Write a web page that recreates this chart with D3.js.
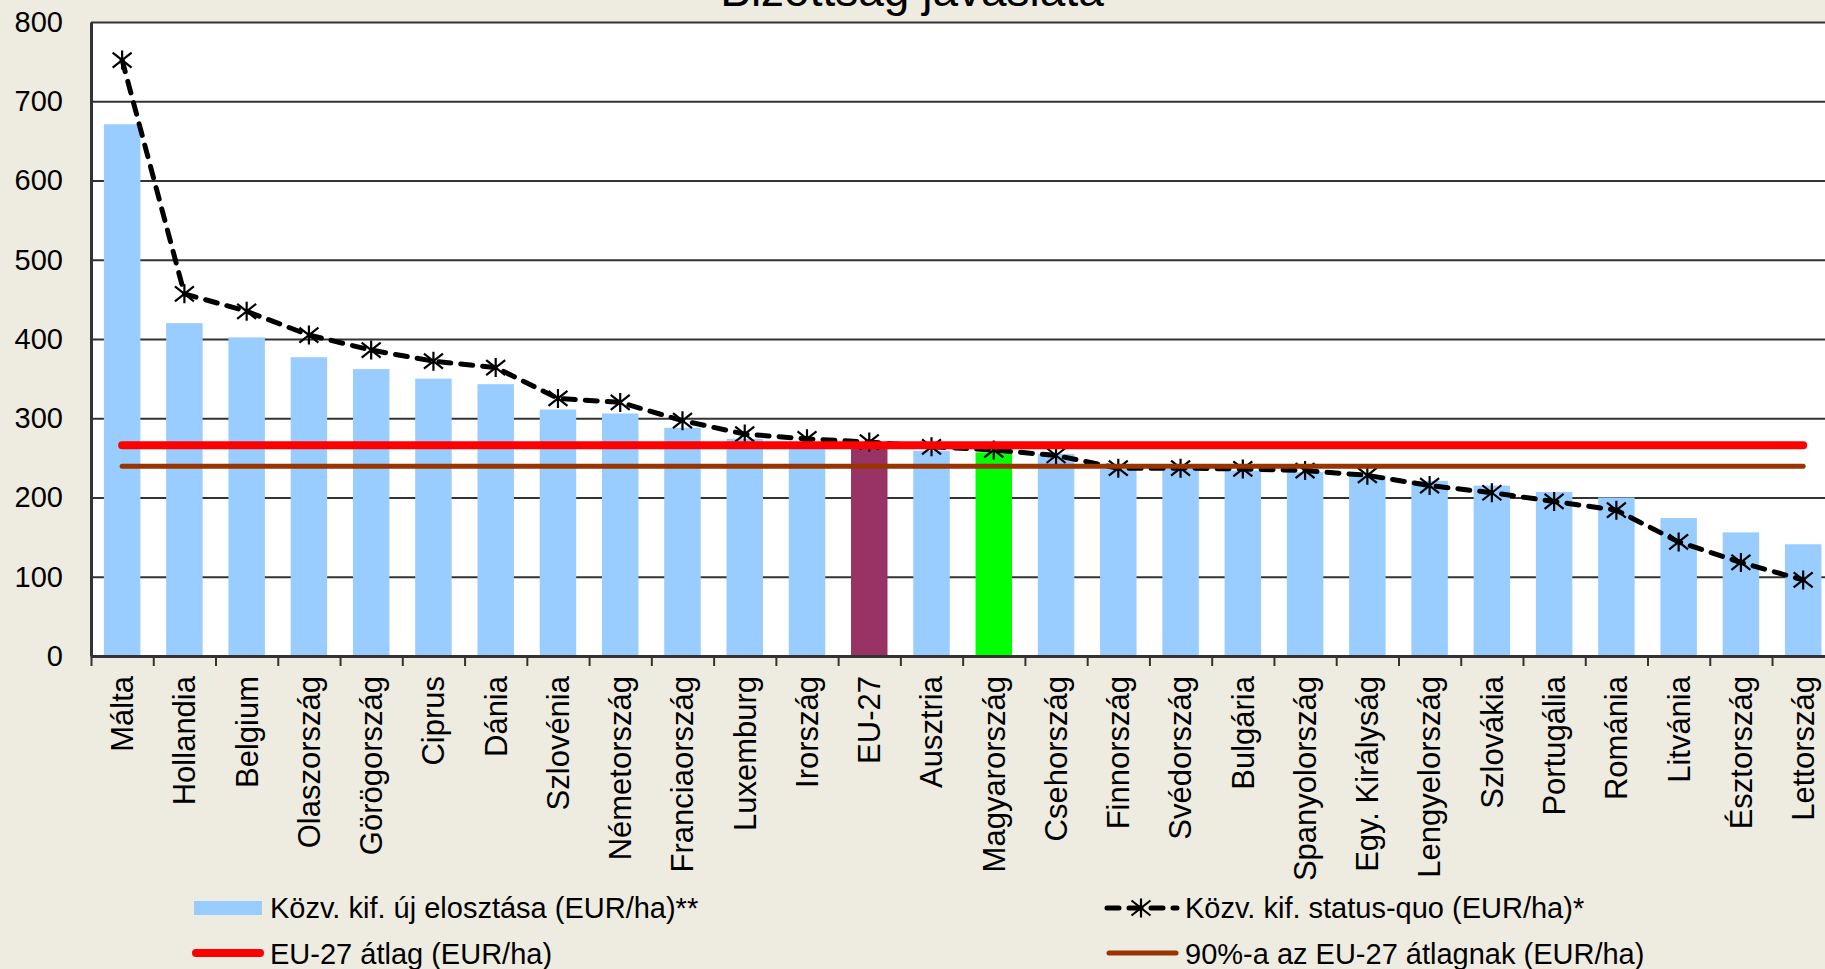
<!DOCTYPE html>
<html>
<head>
<meta charset="utf-8">
<script src="https://cdn.jsdelivr.net/npm/d3@7"></script>
<style>
  body { margin: 0; background: #EEECE1; }
  text { font-family: "Liberation Sans", Arial, sans-serif; fill: #000; }
</style>
</head>
<body>
<script>
var W = 1825, H = 969;

var categories = ["Málta", "Hollandia", "Belgium", "Olaszország", "Görögország", "Ciprus", "Dánia",
  "Szlovénia", "Németország", "Franciaország", "Luxemburg", "Irország", "EU-27", "Ausztria",
  "Magyarország", "Csehország", "Finnország", "Svédország", "Bulgária", "Spanyolország",
  "Egy. Királyság", "Lengyelország", "Szlovákia", "Portugália", "Románia", "Litvánia",
  "Észtország", "Lettország"];

// Közv. kif. új elosztása (EUR/ha)**
var newDistribution = [671, 420, 402, 377, 362, 350, 343, 311, 306, 288, 274, 265, 266, 259,
  257, 255, 236, 236, 234, 232, 228, 221, 215, 207, 200, 174, 156, 141];

// Közv. kif. status-quo (EUR/ha)*
var statusQuo = [752, 457, 435, 405, 386, 372, 364, 325, 320, 297, 280, 274, 270, 264,
  260, 253, 237, 237, 236, 234, 228, 215, 206, 195, 184, 144, 118, 96];

var euAverage = 266;      // EU-27 átlag (EUR/ha)
var euAverage90 = 239.4;  // 90%-a az EU-27 átlagnak (EUR/ha)

var yTicks = [0, 100, 200, 300, 400, 500, 600, 700, 800];

var legendLabels = ["Közv. kif. új elosztása (EUR/ha)**", "Közv. kif. status-quo (EUR/ha)*",
  "EU-27 átlag (EUR/ha)", "90%-a az EU-27 átlagnak (EUR/ha)"];

var barColor = function (name) {
  if (name === "EU-27") return "#993366";
  if (name === "Magyarország") return "#00FF00";
  return "#99CCFF";
};

var plotLeft = 91, plotRight = 1834.3, plotTop = 22, plotBottom = 656;

var svg = d3.select("body")
  .append("svg")
  .attr("width", W)
  .attr("height", H);

svg.append("rect").attr("width", W).attr("height", H).attr("fill", "#EEECE1");
svg.append("rect")
  .attr("x", plotLeft).attr("y", plotTop)
  .attr("width", plotRight - plotLeft).attr("height", plotBottom - plotTop)
  .attr("fill", "#fff");

var xScale = d3.scaleBand()
  .domain(categories)
  .range([plotLeft, plotRight])
  .paddingInner(0.414)
  .paddingOuter(0.207);

var slotScale = d3.scaleLinear()
  .domain([0, categories.length])
  .range([plotLeft, plotRight]);

var yScale = d3.scaleLinear()
  .domain([0, 800])
  .range([plotBottom, plotTop]);

// title (mostly cut off at the top)
svg.append("text")
  .attr("x", 912).attr("y", 6)
  .attr("text-anchor", "middle")
  .style("font-size", "46px")
  .text("Bizottság javaslata");

// gridlines
var grid = svg.append("g")
  .attr("transform", "translate(" + plotLeft + ",0)")
  .call(d3.axisLeft(yScale).tickValues(yTicks.slice(1)).tickSize(-(plotRight - plotLeft)).tickFormat(""));
grid.select(".domain").remove();
grid.selectAll("line").attr("stroke", "#333").attr("stroke-width", 2.2);

// bars
svg.append("g")
  .selectAll("rect")
  .data(newDistribution)
  .enter()
  .append("rect")
  .attr("x", function (d, i) { return xScale(categories[i]); })
  .attr("y", function (d) { return yScale(d); })
  .attr("width", xScale.bandwidth())
  .attr("height", function (d) { return yScale(0) - yScale(d); })
  .attr("fill", function (d, i) { return barColor(categories[i]); });

var cx = function (i) { return xScale(categories[i]) + xScale.bandwidth() / 2; };

// status-quo dashed line
var line = d3.line()
  .x(function (d, i) { return cx(i); })
  .y(function (d) { return yScale(d); });

svg.append("path")
  .datum(statusQuo)
  .attr("d", line)
  .attr("fill", "none")
  .attr("stroke", "#000")
  .attr("stroke-width", 5)
  .attr("stroke-dasharray", "12,10")
  .attr("stroke-linecap", "round");

var starPath = "M0,-9.5V9.5M-9.5,-7.5L9.5,7.5M-9.5,7.5L9.5,-7.5";
svg.append("g")
  .selectAll("path")
  .data(statusQuo)
  .enter()
  .append("path")
  .attr("transform", function (d, i) { return "translate(" + cx(i) + "," + yScale(d) + ")"; })
  .attr("d", starPath)
  .attr("fill", "none")
  .attr("stroke", "#000")
  .attr("stroke-width", 2.2);

// average lines
var last = categories.length - 1;
svg.append("line")
  .attr("x1", cx(0)).attr("x2", cx(last))
  .attr("y1", yScale(euAverage)).attr("y2", yScale(euAverage))
  .attr("stroke", "#FF0000").attr("stroke-width", 8).attr("stroke-linecap", "round");
svg.append("line")
  .attr("x1", cx(0)).attr("x2", cx(last))
  .attr("y1", yScale(euAverage90)).attr("y2", yScale(euAverage90))
  .attr("stroke", "#993300").attr("stroke-width", 5).attr("stroke-linecap", "round");

// axes
var yAxis = svg.append("g")
  .attr("transform", "translate(" + plotLeft + ",0)")
  .call(d3.axisLeft(yScale).tickValues(yTicks).tickSize(0).tickPadding(28));
yAxis.select(".domain").attr("stroke", "#333").attr("stroke-width", 3);
yAxis.selectAll("text").style("font-size", "29px");

var xTicks = svg.append("g")
  .attr("transform", "translate(0," + plotBottom + ")")
  .call(d3.axisBottom(slotScale).tickValues(d3.range(0, categories.length + 1)).tickSize(10).tickSizeOuter(0).tickFormat(""));
xTicks.select(".domain").attr("stroke", "#333").attr("stroke-width", 3);
xTicks.selectAll("line").attr("stroke", "#333").attr("stroke-width", 2);

var xAxis = svg.append("g")
  .attr("transform", "translate(0," + plotBottom + ")")
  .call(d3.axisBottom(xScale).tickSize(0));
xAxis.select(".domain").remove();
xAxis.selectAll("text")
  .attr("transform", "translate(0,20) rotate(-90)")
  .attr("x", 0).attr("y", 0)
  .attr("dy", "0.35em")
  .attr("text-anchor", "end")
  .style("font-size", "31px");

// legend
var lg = svg.append("g");
lg.append("rect").attr("x", 194).attr("y", 901).attr("width", 68).attr("height", 14).attr("fill", "#99CCFF");
lg.append("line").attr("x1", 1107).attr("x2", 1177).attr("y1", 908).attr("y2", 908)
  .attr("stroke", "#000").attr("stroke-width", 5).attr("stroke-dasharray", "12,10").attr("stroke-linecap", "round");
lg.append("path").attr("transform", "translate(1141,908)").attr("d", starPath)
  .attr("fill", "none").attr("stroke", "#000").attr("stroke-width", 2.2);
lg.append("line").attr("x1", 196).attr("x2", 260).attr("y1", 953).attr("y2", 953)
  .attr("stroke", "#FF0000").attr("stroke-width", 8).attr("stroke-linecap", "round");
lg.append("line").attr("x1", 1109).attr("x2", 1176).attr("y1", 953).attr("y2", 953)
  .attr("stroke", "#993300").attr("stroke-width", 5).attr("stroke-linecap", "round");

var legendPos = [[270, 918], [1185, 918], [270, 964], [1185, 964]];
lg.selectAll("text")
  .data(legendLabels)
  .enter()
  .append("text")
  .attr("x", function (d, i) { return legendPos[i][0]; })
  .attr("y", function (d, i) { return legendPos[i][1]; })
  .style("font-size", "29px")
  .text(function (d) { return d; });
</script>
</body>
</html>
